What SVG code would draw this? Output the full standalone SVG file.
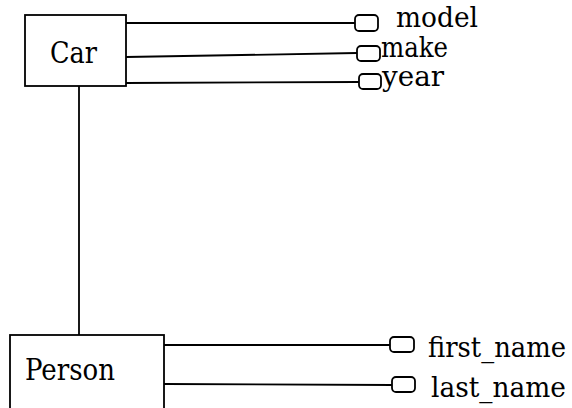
<svg xmlns="http://www.w3.org/2000/svg" width="572" height="408" viewBox="0 0 572 408">
<style>
.ent{fill:#fff;stroke:#000;stroke-width:1.8}
.att{fill:#fff;stroke:#000;stroke-width:1.8}
.ln{fill:none;stroke:#000;stroke-width:1.8}
.t{font-family:'DejaVu Serif','Liberation Serif',serif;font-size:29px;fill:#000}
.a{font-family:'DejaVu Serif','Liberation Serif',serif;font-size:27px;fill:#000}
</style>
<rect width="572" height="408" fill="#fff"/>
<g id="connectors">
<line class="ln" x1="126" y1="23" x2="355" y2="23"/>
<line class="ln" x1="126" y1="57" x2="357" y2="53"/>
<line class="ln" x1="126" y1="83" x2="359" y2="82"/>
<line class="ln" x1="79" y1="86" x2="79" y2="335"/>
<line class="ln" x1="164" y1="345" x2="390" y2="345"/>
<line class="ln" x1="164" y1="384" x2="392" y2="385"/>
</g>
<g id="car">
<rect class="ent" x="25" y="15" width="101" height="71"/>
<text class="t" x="50" y="63" textLength="47" lengthAdjust="spacingAndGlyphs">Car</text>
</g>
<g id="person">
<rect class="ent" x="10" y="335" width="154" height="80"/>
<text class="t" x="25" y="380" textLength="90" lengthAdjust="spacingAndGlyphs">Person</text>
</g>
<g id="model">
<rect class="att" x="355" y="15" width="23" height="16" rx="4"/>
<text class="a" x="396" y="27" textLength="82" lengthAdjust="spacingAndGlyphs">model</text>
</g>
<g id="make">
<rect class="att" x="357" y="46" width="23" height="15" rx="4"/>
<text class="a" x="381" y="57" textLength="67" lengthAdjust="spacingAndGlyphs">make</text>
</g>
<g id="year">
<rect class="att" x="359" y="74" width="22" height="15" rx="4"/>
<text class="a" x="382" y="86" textLength="62" lengthAdjust="spacingAndGlyphs">year</text>
</g>
<g id="first_name">
<rect class="att" x="390" y="337" width="24" height="15" rx="4"/>
<text class="a" x="428" y="357" textLength="138" lengthAdjust="spacingAndGlyphs">first_name</text>
</g>
<g id="last_name">
<rect class="att" x="392" y="377" width="23" height="15" rx="4"/>
<text class="a" x="431" y="397" textLength="135" lengthAdjust="spacingAndGlyphs">last_name</text>
</g>
</svg>
